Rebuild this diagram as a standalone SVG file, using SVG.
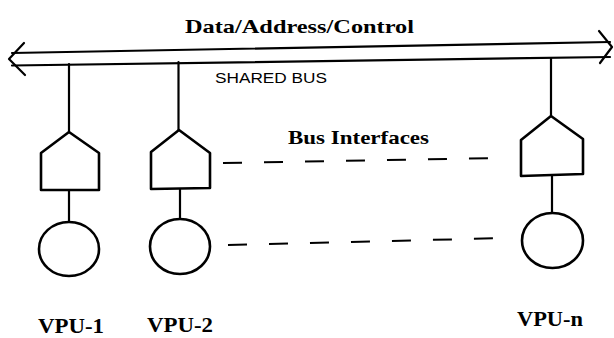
<svg xmlns="http://www.w3.org/2000/svg" width="614" height="338" viewBox="0 0 614 338">
<style>
.ln{stroke:#000;stroke-width:2.2;fill:none;stroke-linecap:round;stroke-linejoin:round}
.sh{stroke:#000;stroke-width:2.6;fill:#fff;stroke-linejoin:round}
.dash{stroke:#000;stroke-width:2;fill:none;stroke-dasharray:19 22}
.lbl{font-family:"Liberation Serif","Times New Roman",serif;font-weight:bold;fill:#000}
.sans{font-family:"Liberation Sans Narrow","Liberation Sans",Arial,sans-serif;fill:#000}
</style>
<rect width="614" height="338" fill="#fff"/>
<g id="bus">
<path class="ln" d="M12,53 L610,42"/>
<path class="ln" d="M12,65.5 L610,57"/>
<path class="ln" d="M24,43 L9,59 L25,75"/>
<path class="ln" d="M599,31 L612,47 L600,63"/>
<text class="lbl" x="185" y="33" font-size="19" textLength="229" lengthAdjust="spacingAndGlyphs">Data/Address/Control</text>
<text class="sans" x="215" y="83" font-size="14" textLength="112" lengthAdjust="spacingAndGlyphs">SHARED BUS</text>
</g>
<g id="connectors">
<path class="ln" d="M69,64 L69,132"/>
<path class="ln" d="M178.5,62 L178.5,130"/>
<path class="ln" d="M551,58 L551,116"/>
<path class="ln" d="M69,190 L69,222"/>
<path class="ln" d="M180,188 L180,219"/>
<path class="ln" d="M552,175 L552,213"/>
<path class="dash" d="M223,163 L500,158"/>
<path class="dash" d="M228,245 L507,238"/>
</g>
<g id="label-bus-interfaces">
<text class="lbl" x="288" y="144" font-size="19" textLength="141" lengthAdjust="spacingAndGlyphs">Bus Interfaces</text>
</g>
<g id="vpu-1">
<path class="sh" d="M69,132 L41,153 L41,190 L99,190 L99,153 Z"/>
<ellipse class="sh" cx="69" cy="249" rx="30" ry="27"/>
<text class="lbl" x="38" y="333" font-size="21" textLength="66" lengthAdjust="spacingAndGlyphs">VPU-1</text>
</g>
<g id="vpu-2">
<path class="sh" d="M179,130 L151,152 L151,189 L210,188 L210,153 Z"/>
<ellipse class="sh" cx="180" cy="246.5" rx="30" ry="27.5"/>
<text class="lbl" x="147" y="332" font-size="21" textLength="66" lengthAdjust="spacingAndGlyphs">VPU-2</text>
</g>
<g id="vpu-n">
<path class="sh" d="M551,116 L521,140 L521,176 L583,174 L583,139 Z"/>
<ellipse class="sh" cx="552.5" cy="240.5" rx="30.5" ry="27.5"/>
<text class="lbl" x="517" y="326" font-size="21" textLength="66" lengthAdjust="spacingAndGlyphs">VPU-n</text>
</g>
</svg>
